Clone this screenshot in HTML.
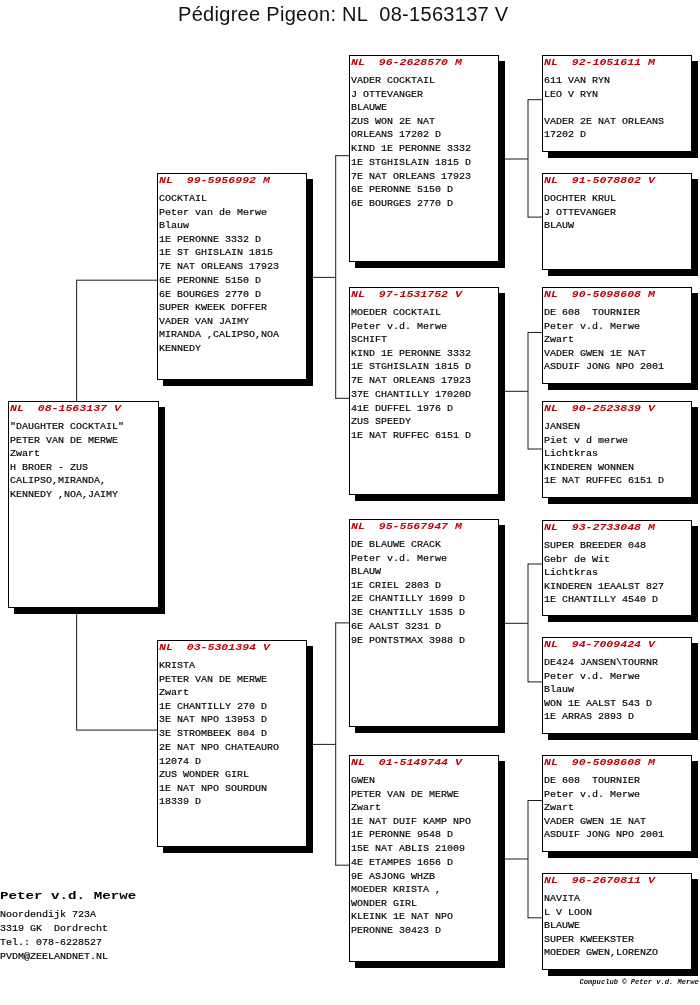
<!DOCTYPE html>
<html lang="nl">
<head>
<meta charset="utf-8">
<title>Pédigree Pigeon: NL 08-1563137 V</title>
<style>
html,body{margin:0;padding:0;background:#fff;}
.pg{position:absolute;left:0;top:0;width:700px;height:1005px;will-change:transform;}
body{width:700px;height:1005px;position:relative;overflow:hidden;font-family:"Liberation Mono",monospace;color:#000;}
.title{position:absolute;left:178px;top:0;font-family:"Liberation Sans",sans-serif;font-size:20px;line-height:28px;letter-spacing:0.3px;white-space:pre;color:#111;}
.bx{position:absolute;box-sizing:border-box;border:1px solid #000;background:#fff;box-shadow:6px 6px 0 #000;}
.hd{position:absolute;left:1px;top:-1px;font-size:11.55px;line-height:14px;font-weight:bold;font-style:italic;color:#bd0008;white-space:pre;transform:scaleY(0.86);transform-origin:0 10.1px;}
.tx{position:absolute;left:1px;top:18.3px;margin:0;font-family:"Liberation Mono",monospace;font-size:10px;line-height:15.534px;white-space:pre;color:#000;-webkit-text-stroke:0.18px #000;transform:scaleY(0.88);transform-origin:0 0;}
.cn{position:absolute;left:0;top:0;}
.nm{position:absolute;left:0;top:887px;font-size:14.2px;line-height:16px;font-weight:bold;white-space:pre;transform:scaleY(0.8);transform-origin:0 11.8px;}
.ad{position:absolute;left:0;top:908.4px;margin:0;font-family:"Liberation Mono",monospace;font-size:10px;line-height:15.909px;white-space:pre;color:#000;-webkit-text-stroke:0.18px #000;transform:scaleY(0.88);transform-origin:0 0;}
.ft{position:absolute;left:579.6px;top:978px;font-size:7.1px;line-height:9px;font-weight:bold;font-style:italic;white-space:pre;color:#111;}
</style>
</head>
<body>
<div class="pg">
<div class="title">Pédigree Pigeon: NL  08-1563137 V</div>
<svg class="cn" width="700" height="1005" viewBox="0 0 700 1005" fill="none" stroke="#1c1c1c" stroke-width="1">
<line x1="76.65" y1="280.2" x2="76.65" y2="401"/>
<line x1="76.15" y1="280.2" x2="157" y2="280.2"/>
<line x1="76.65" y1="608" x2="76.65" y2="730.1"/>
<line x1="76.15" y1="730.1" x2="157" y2="730.1"/>
<line x1="313" y1="277.4" x2="335.7" y2="277.4"/>
<line x1="335.7" y1="155.2" x2="335.7" y2="398.8"/>
<line x1="335.7" y1="155.7" x2="349" y2="155.7"/>
<line x1="335.7" y1="398.3" x2="349" y2="398.3"/>
<line x1="313" y1="744.4" x2="335.7" y2="744.4"/>
<line x1="335.7" y1="622.4" x2="335.7" y2="865.7"/>
<line x1="335.7" y1="622.9" x2="349" y2="622.9"/>
<line x1="335.7" y1="865.2" x2="349" y2="865.2"/>
<line x1="505" y1="159" x2="528" y2="159"/>
<line x1="528" y1="99.2" x2="528" y2="217.6"/>
<line x1="528" y1="99.7" x2="542" y2="99.7"/>
<line x1="528" y1="217.1" x2="542" y2="217.1"/>
<line x1="505" y1="391.3" x2="528" y2="391.3"/>
<line x1="528" y1="331.95" x2="528" y2="449.5"/>
<line x1="528" y1="332.45" x2="542" y2="332.45"/>
<line x1="528" y1="449" x2="542" y2="449"/>
<line x1="505" y1="623.3" x2="528" y2="623.3"/>
<line x1="528" y1="563.5" x2="528" y2="682.4"/>
<line x1="528" y1="564" x2="542" y2="564"/>
<line x1="528" y1="681.9" x2="542" y2="681.9"/>
<line x1="505" y1="859" x2="528" y2="859"/>
<line x1="528" y1="800" x2="528" y2="918.3"/>
<line x1="528" y1="800.5" x2="542" y2="800.5"/>
<line x1="528" y1="917.8" x2="542" y2="917.8"/>
</svg>
<div class="bx" style="left:8px;top:401px;width:151px;height:207px"><div class="hd">NL  08-1563137 V</div><pre class="tx">"DAUGHTER COCKTAIL"
PETER VAN DE MERWE
Zwart
H BROER - ZUS
CALIPSO,MIRANDA,
KENNEDY ,NOA,JAIMY</pre></div>
<div class="bx" style="left:157px;top:173px;width:150px;height:207px"><div class="hd">NL  99-5956992 M</div><pre class="tx">COCKTAIL
Peter van de Merwe
Blauw
1E PERONNE 3332 D
1E ST GHISLAIN 1815
7E NAT ORLEANS 17923
6E PERONNE 5150 D
6E BOURGES 2770 D
SUPER KWEEK DOFFER
VADER VAN JAIMY
MIRANDA ,CALIPSO,NOA
KENNEDY</pre></div>
<div class="bx" style="left:157px;top:640px;width:150px;height:207px"><div class="hd">NL  03-5301394 V</div><pre class="tx">KRISTA
PETER VAN DE MERWE
Zwart
1E CHANTILLY 270 D
3E NAT NPO 13953 D
3E STROMBEEK 804 D
2E NAT NPO CHATEAURO
12074 D
ZUS WONDER GIRL
1E NAT NPO SOURDUN
18339 D</pre></div>
<div class="bx" style="left:349px;top:55px;width:150px;height:207px"><div class="hd">NL  96-2628570 M</div><pre class="tx">VADER COCKTAIL
J OTTEVANGER
BLAUWE
ZUS WON 2E NAT
ORLEANS 17202 D
KIND 1E PERONNE 3332
1E STGHISLAIN 1815 D
7E NAT ORLEANS 17923
6E PERONNE 5150 D
6E BOURGES 2770 D</pre></div>
<div class="bx" style="left:349px;top:287px;width:150px;height:208px"><div class="hd">NL  97-1531752 V</div><pre class="tx">MOEDER COCKTAIL
Peter v.d. Merwe
SCHIFT
KIND 1E PERONNE 3332
1E STGHISLAIN 1815 D
7E NAT ORLEANS 17923
37E CHANTILLY 17020D
41E DUFFEL 1976 D
ZUS SPEEDY
1E NAT RUFFEC 6151 D</pre></div>
<div class="bx" style="left:349px;top:519px;width:150px;height:208px"><div class="hd">NL  95-5567947 M</div><pre class="tx">DE BLAUWE CRACK
Peter v.d. Merwe
BLAUW
1E CRIEL 2803 D
2E CHANTILLY 1699 D
3E CHANTILLY 1535 D
6E AALST 3231 D
9E PONTSTMAX 3988 D</pre></div>
<div class="bx" style="left:349px;top:755px;width:150px;height:207px"><div class="hd">NL  01-5149744 V</div><pre class="tx">GWEN
PETER VAN DE MERWE
Zwart
1E NAT DUIF KAMP NPO
1E PERONNE 9548 D
15E NAT ABLIS 21009
4E ETAMPES 1656 D
9E ASJONG WHZB
MOEDER KRISTA ,
WONDER GIRL
KLEINK 1E NAT NPO
PERONNE 30423 D</pre></div>
<div class="bx" style="left:542px;top:55px;width:150px;height:97px"><div class="hd">NL  92-1051611 M</div><pre class="tx">611 VAN RYN
LEO V RYN

VADER 2E NAT ORLEANS
17202 D</pre></div>
<div class="bx" style="left:542px;top:173px;width:150px;height:97px"><div class="hd">NL  91-5078802 V</div><pre class="tx">DOCHTER KRUL
J OTTEVANGER
BLAUW</pre></div>
<div class="bx" style="left:542px;top:287px;width:150px;height:97px"><div class="hd">NL  90-5098608 M</div><pre class="tx">DE 608  TOURNIER
Peter v.d. Merwe
Zwart
VADER GWEN 1E NAT
ASDUIF JONG NPO 2001</pre></div>
<div class="bx" style="left:542px;top:401px;width:150px;height:97px"><div class="hd">NL  90-2523839 V</div><pre class="tx">JANSEN
Piet v d merwe
Lichtkras
KINDEREN WONNEN
1E NAT RUFFEC 6151 D</pre></div>
<div class="bx" style="left:542px;top:520px;width:150px;height:96px"><div class="hd">NL  93-2733048 M</div><pre class="tx">SUPER BREEDER 048
Gebr de Wit
Lichtkras
KINDEREN 1EAALST 827
1E CHANTILLY 4540 D</pre></div>
<div class="bx" style="left:542px;top:637px;width:150px;height:97px"><div class="hd">NL  94-7009424 V</div><pre class="tx">DE424 JANSEN\TOURNR
Peter v.d. Merwe
Blauw
WON 1E AALST 543 D
1E ARRAS 2893 D</pre></div>
<div class="bx" style="left:542px;top:755px;width:150px;height:97px"><div class="hd">NL  90-5098608 M</div><pre class="tx">DE 608  TOURNIER
Peter v.d. Merwe
Zwart
VADER GWEN 1E NAT
ASDUIF JONG NPO 2001</pre></div>
<div class="bx" style="left:542px;top:873px;width:150px;height:97px"><div class="hd">NL  96-2670811 V</div><pre class="tx">NAVITA
L V LOON
BLAUWE
SUPER KWEEKSTER
MOEDER GWEN,LORENZO</pre></div>
<div class="nm">Peter v.d. Merwe</div>
<pre class="ad">Noordendijk 723A
3319 GK  Dordrecht
Tel.: 078-6228527
PVDM@ZEELANDNET.NL</pre>
<div class="ft">Compuclub © Peter v.d. Merwe</div>
</div>
</body>
</html>
